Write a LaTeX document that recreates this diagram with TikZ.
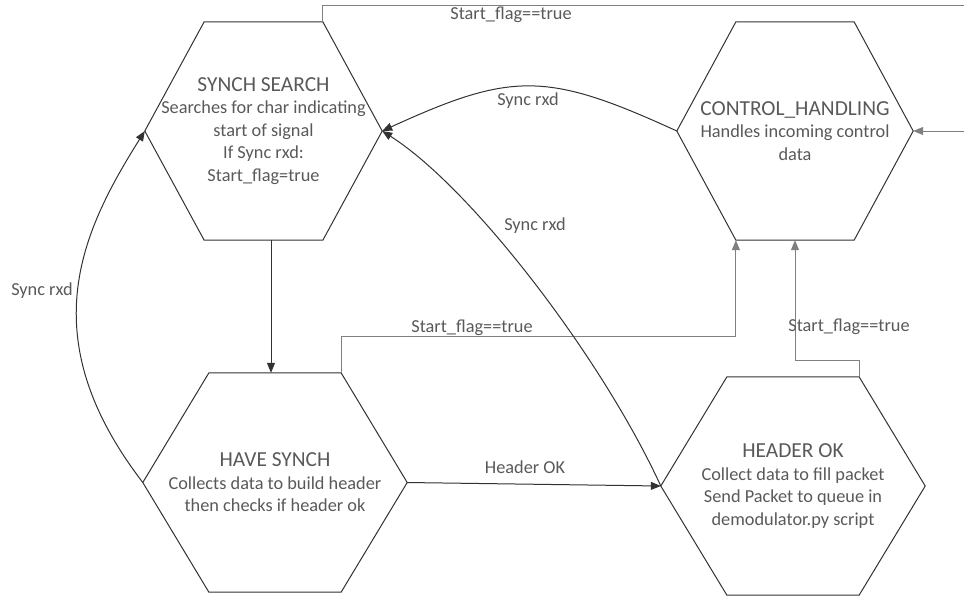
\documentclass[tikz,border=0pt]{standalone}
\usepackage{fontspec}
\setmainfont{Carlito}
\usetikzlibrary{calc,arrows.meta}
\definecolor{txt}{RGB}{89,89,89}
\definecolor{gline}{RGB}{128,128,128}
\definecolor{hline}{RGB}{50,50,50}
\newcommand{\ttl}{\fontsize{21.4}{22.5}\selectfont}
\tikzset{
  state/.style={rectangle, draw=none, inner sep=0pt, align=center, text=txt,
    font=\fontsize{18.3}{22.5}\selectfont},
  hexline/.style={draw=hline, line width=1pt, line join=miter},
  blk/.style={draw=hline, line width=1pt, -{Triangle[length=10pt,width=8pt]}},
  gry/.style={draw=gline, line width=1pt, -{Triangle[length=10pt,width=8pt]}},
  lbl/.style={text=txt, inner sep=0pt, font=\fontsize{18.3}{22}\selectfont}
}
\begin{document}
\begin{tikzpicture}[x=1pt,y=-1pt]
\useasboundingbox (0,0) rectangle (964,598);

\node[state, minimum width=237pt, minimum height=218pt] (ss) at (263.5,131)
  {{\ttl SYNCH SEARCH}\\Searches for char indicating\\start of signal\\If Sync rxd:\\Start\_flag=true};
\node[state, minimum width=236pt, minimum height=218pt] (ch) at (795,131)
  {{\ttl CONTROL\_HANDLING}\\Handles incoming control\\data};
\node[state, minimum width=264pt, minimum height=219pt] (hs) at (275,482.5)
  {{\ttl HAVE SYNCH}\\Collects data to build header\\then checks if header ok};
\node[state, minimum width=264pt, minimum height=218pt] (ho) at (793,486)
  {{\ttl HEADER OK}\\Collect data to fill packet\\Send Packet to queue in\\demodulator.py script};

\foreach \n in {ss,ch,hs,ho}{
  \draw[hexline] (\n.west) -- ($(\n.north west)!.5!(\n.north)$) -- ($(\n.north east)!.5!(\n.north)$)
    -- (\n.east) -- ($(\n.south east)!.5!(\n.south)$) -- ($(\n.south west)!.5!(\n.south)$) -- cycle;
}

\coordinate (ssTR) at ($(ss.north)!.5!(ss.north east)$);
\coordinate (hsTR) at ($(hs.north)!.5!(hs.north east)$);
\coordinate (hoTR) at ($(ho.north)!.5!(ho.north east)$);
\coordinate (chBL) at ($(ch.south)!.5!(ch.south west)$);

% gray Start_flag connectors
\draw[gry] (ssTR) |- (985,5) |- (ch.east);
\draw[gry] (hsTR) -- ++(0,-36) -| (chBL);
\draw[gry] (hoTR) -- ++(0,-16) -| (ch.south);

% black transitions
\draw[blk] ($(ss.south)+(7.5,0)$) -- ($(hs.north)+(-4,0)$);
\draw[blk] (hs.east) -- (ho.west);
\draw[blk] (ch.west) .. controls (547,71.5) and (512,71.5) .. (ss.east);
\draw[blk] (ho.west) .. controls (602,358) and (472,188) .. (ss.east);
\draw[blk] (hs.west) .. controls (32,338) and (80,234) .. (ss.west);

% labels
\node[lbl] (l1) at (511,15) {Start\_flag==true};
\node[lbl] (l2) at (528,101) {Sync rxd};
\node[lbl] (l3) at (535,226) {Sync rxd};
\node[lbl] (l4) at (42,291) {Sync rxd};
\node[lbl] (l5) at (472,328) {Start\_flag==true};
\node[lbl] (l6) at (849,327) {Start\_flag==true};
\node[lbl] (l7) at (525,467) {Header OK};
\end{tikzpicture}
\end{document}
